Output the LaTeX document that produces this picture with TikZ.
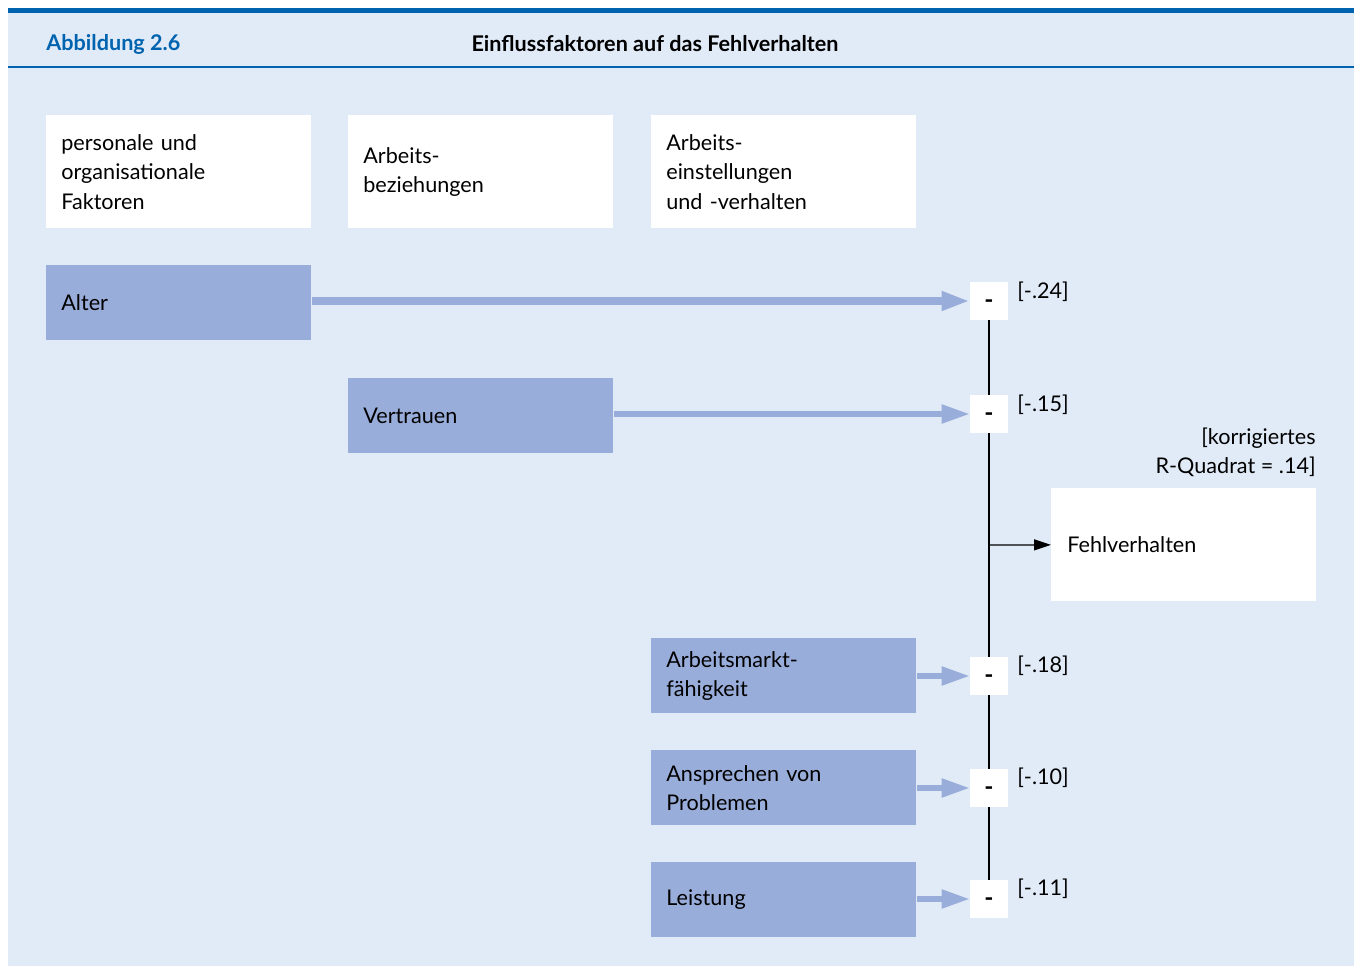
\documentclass[tikz,border=0pt]{standalone}
\usepackage{fontspec}
\setmainfont{Lato}
\usetikzlibrary{arrows.meta}

\definecolor{bgblue}{HTML}{E1EBF7}
\definecolor{headblue}{HTML}{0063AF}
\definecolor{boxblue}{HTML}{99ADDA}

\tikzset{
	every node/.style={font=\fontsize{12.3}{16.7}\selectfont},
	headbox/.style={fill=white, anchor=north west, minimum width=5.3cm, minimum height=2.26cm, text width=4.7cm, inner xsep=0.3cm, inner ysep=0pt, align=left},
	factor/.style={fill=boxblue, anchor=north west, minimum width=5.3cm, minimum height=1.5cm, text width=4.7cm, inner xsep=0.3cm, inner ysep=0pt, align=left},
	minusbox/.style={fill=white, minimum size=0.76cm, inner sep=0pt, text height=0.88em, text depth=0pt, font=\fontsize{14}{16.7}\selectfont\bfseries},
	coef/.style={anchor=west, inner sep=0pt},
	effect/.style={draw=boxblue, line width=3pt, -{Triangle[length=0.56cm, width=0.36cm]}},
	link/.style={draw=black, line width=0.7pt}
}

\begin{document}
\begin{tikzpicture}[x=0.02cm, y=-0.02cm]
		\useasboundingbox (0,0) rectangle (1356,966);

		% Hintergrund und Kopfzeile
		\fill[bgblue] (8,8) rectangle (1354,966);
		\fill[headblue] (8,8) rectangle (1354,13);
		\draw[headblue, line width=0.8pt] (8,67) -- (1354,67);
		\node[anchor=west, inner sep=0pt, text=headblue, font=\fontsize{12.3}{16.7}\selectfont\bfseries] (fig) at (46,44) {Abbildung 2.6};
		\node[inner sep=0pt, font=\fontsize{12.3}{16.7}\selectfont\bfseries] (title) at (655,44) {Einflussfaktoren auf das Fehlverhalten};

		% Spaltenkoepfe
		\node[headbox] (col1) at (46,115) {personale und\\organisationale\\Faktoren};
		\node[headbox] (col2) at (348,115) {Arbeits-\\beziehungen};
		\node[headbox] (col3) at (651,115) {Arbeits-\\einstellungen\\und -verhalten};

		% Einflussfaktoren
		\node[factor] (alter) at (46,265) {Alter};
		\node[factor, minimum width=5.28cm] (vertrauen) at (348,378) {Vertrauen};
		\node[factor, minimum width=5.26cm] (markt) at (651,638) {Arbeitsmarkt-\\fähigkeit};
		\node[factor] (probleme) at (651,750) {Ansprechen von\\Problemen};
		\node[factor, minimum width=5.26cm] (leistung) at (651,862) {Leistung};

		% Vorzeichen
		\node[minusbox] (m1) at (989,301) {-};
		\node[minusbox] (m2) at (989,414) {-};
		\node[minusbox] (m3) at (989,676) {-};
		\node[minusbox] (m4) at (989,788) {-};
		\node[minusbox] (m5) at (989,899) {-};

		\node[coef] (c1) at (1017,292) {[-.24]};
		\node[coef] (c2) at (1017,405) {[-.15]};
		\node[coef] (c3) at (1017,666) {[-.18]};
		\node[coef] (c4) at (1017,778) {[-.10]};
		\node[coef] (c5) at (1017,889) {[-.11]};

		% Ergebnis
		\node[headbox, text width=4.66cm, inner xsep=0.32cm] (fehl) at (1051,488) {Fehlverhalten};
		\node[anchor=south east, inner sep=0pt, align=right] (rq) at (1316,477) {[korrigiertes\\R-Quadrat = .14]};

		\coordinate (join) at (989,545);

		\draw[effect, line width=4pt] (alter.east |- m1) -- (m1.west);
		\draw[effect] (vertrauen.east |- m2) -- (m2.west);
		\draw[effect] (markt.east |- m3) -- (m3.west);
		\draw[effect] (probleme.east |- m4) -- (m4.west);
		\draw[effect] (leistung.east |- m5) -- (m5.west);

		\draw[link] (m1) -- (m2) -- (m3) -- (m4) -- (m5);
		\draw[link, -{Triangle[length=0.34cm, width=0.22cm]}] (join) -- (fehl.west);
	\end{tikzpicture}
\end{document}
